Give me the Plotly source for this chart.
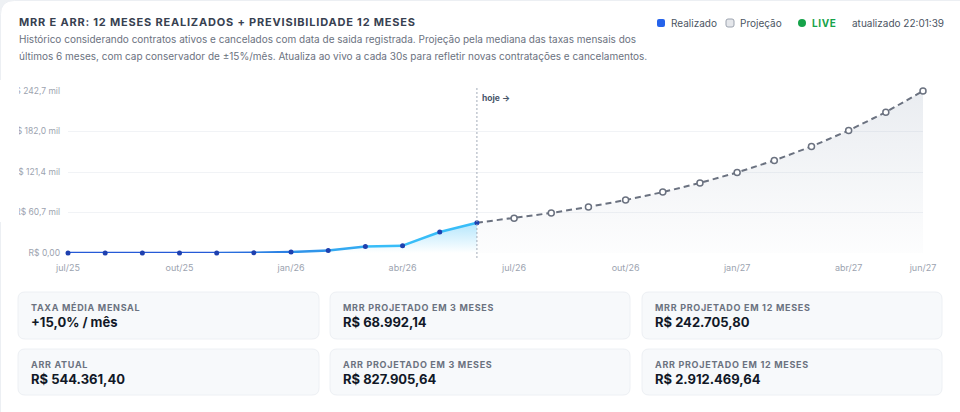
import plotly.graph_objects as go

# ---------------- data ----------------
realized_months = ["jul/25", "ago/25", "set/25", "out/25", "nov/25", "dez/25",
                   "jan/26", "fev/26", "mar/26", "abr/26", "mai/26", "jun/26"]
realized_mrr = [0, 0, 0, 0, 0, 300, 1500, 3600, 9600, 11000, 31500, 45363.45]

projected_months = ["jul/26", "ago/26", "set/26", "out/26", "nov/26", "dez/26",
                    "jan/27", "fev/27", "mar/27", "abr/27", "mai/27", "jun/27"]
projected_mrr = [52167.97, 59993.16, 68992.14, 79340.96, 91242.10, 104928.42,
                 120667.68, 138767.83, 159583.00, 183520.45, 211048.52, 242705.80]

x_tick_labels = ["jul/25", "out/25", "jan/26", "abr/26", "jul/26", "out/26", "jan/27", "abr/27", "jun/27"]
y_tick_values = [0, 60676.45, 121352.90, 182029.35, 242705.80]
y_tick_labels = ["R$ 0,00", "R$ 60,7 mil", "R$ 121,4 mil", "R$ 182,0 mil", "R$ 242,7 mil"]

title_text = "MRR E ARR: 12 MESES REALIZADOS + PREVISIBILIDADE 12 MESES"
subtitle_1 = ("Histórico considerando contratos ativos e cancelados com data de saida registrada. "
              "Projeção pela mediana das taxas mensais dos")
subtitle_2 = ("últimos 6 meses, com cap conservador de ±15%/mês. Atualiza ao vivo a cada 30s "
              "para refletir novas contratações e cancelamentos.")

card_labels = ["TAXA MÉDIA MENSAL", "MRR PROJETADO EM 3 MESES", "MRR PROJETADO EM 12 MESES",
               "ARR ATUAL", "ARR PROJETADO EM 3 MESES", "ARR PROJETADO EM 12 MESES"]
card_values = ["+15,0% / mês", "R$ 68.992,14", "R$ 242.705,80",
               "R$ 544.361,40", "R$ 827.905,64", "R$ 2.912.469,64"]

all_months = realized_months + projected_months

# ---------------- geometry helpers ----------------
W, H = 960, 412
L, R, T, B = 68, 923, 91, 253


def px(x):
    return (x - L) / (R - L)


def py(y):
    return (B - y) / (B - T)


def rrect(x0, y0, x1, y1, r):
    a, b_, c, d = px(x0), px(x1), py(y0), py(y1)
    rx = r / (R - L)
    ry = r / (B - T)
    return (f"M {a+rx},{c} L {b_-rx},{c} Q {b_},{c} {b_},{c-ry} "
            f"L {b_},{d+ry} Q {b_},{d} {b_-rx},{d} L {a+rx},{d} Q {a},{d} {a},{d+ry} "
            f"L {a},{c-ry} Q {a},{c} {a+rx},{c} Z")


FONT = "Inter"

fig = go.Figure()

# projection fill
proj_x = [realized_months[-1]] + projected_months
proj_y = [realized_mrr[-1]] + projected_mrr
fig.add_trace(go.Scatter(
    x=proj_x, y=proj_y, mode="lines", line=dict(width=0), fill="tozeroy",
    fillgradient=dict(type="vertical", start=0, stop=max(projected_mrr),
                      colorscale=[[0, "rgba(148,163,184,0.02)"], [1, "rgba(148,163,184,0.20)"]]),
    hoverinfo="skip", showlegend=False))

# realized fill
fig.add_trace(go.Scatter(
    x=realized_months, y=realized_mrr, mode="lines", line=dict(width=0), fill="tozeroy",
    fillgradient=dict(type="vertical", start=0, stop=max(realized_mrr),
                      colorscale=[[0, "rgba(56,189,248,0.0)"], [1, "rgba(56,189,248,0.38)"]]),
    hoverinfo="skip", showlegend=False))

# projection dashed line
fig.add_trace(go.Scatter(
    x=proj_x, y=proj_y, mode="lines",
    line=dict(color="#6b7280", width=2, dash="6px,4px"),
    cliponaxis=False, hoverinfo="skip", showlegend=False))

# realized line segments with colour gradient (blue -> sky)
c0 = (37, 90, 215)
c1 = (56, 189, 248)
n = len(realized_months)
for i in range(n - 1):
    t = min(1.0, max(0.0, (i - 3) / 5))
    col = tuple(int(c0[k] + (c1[k] - c0[k]) * t) for k in range(3))
    fig.add_trace(go.Scatter(
        x=realized_months[i:i + 2], y=realized_mrr[i:i + 2], mode="lines",
        line=dict(color=f"rgb{col}", width=2.5), cliponaxis=False,
        hoverinfo="skip", showlegend=False))

# projection markers
fig.add_trace(go.Scatter(
    x=projected_months, y=projected_mrr, mode="markers",
    marker=dict(size=6, color="white", line=dict(color="#6b7280", width=1.5)),
    cliponaxis=False, showlegend=False))

# realized markers
fig.add_trace(go.Scatter(
    x=realized_months, y=realized_mrr, mode="markers",
    marker=dict(size=5, color="#1e40af"),
    cliponaxis=False, showlegend=False))

shapes = []
# card background (page)
shapes.append(dict(type="path", xref="paper", yref="paper", layer="below",
                   path=rrect(0.5, 0.5, W + 20, H + 20, 14),
                   fillcolor="white", line=dict(color="#eceff3", width=1)))
# today line
shapes.append(dict(type="line", xref="x", yref="paper", x0=realized_months[-1], x1=realized_months[-1],
                   y0=py(88), y1=py(258), line=dict(color="#a3abb8", width=1, dash="2px,2px"),
                   layer="above"))
# clip tick labels at left edge
shapes.append(dict(type="rect", xref="paper", yref="paper", x0=px(0), x1=px(19), y0=py(80), y1=py(222),
                   fillcolor="white", line=dict(width=0), layer="above"))

# stat cards
card_cols = [(18, 319), (330, 630), (642, 942)]
card_rows = [(292, 339), (349, 395)]
annotations = []
for idx, (lab, val) in enumerate(zip(card_labels, card_values)):
    r_i, c_i = divmod(idx, 3)
    x0, x1 = card_cols[c_i]
    y0, y1 = card_rows[r_i]
    shapes.append(dict(type="path", xref="paper", yref="paper", layer="below",
                       path=rrect(x0, y0, x1, y1, 7),
                       fillcolor="#f7f9fb", line=dict(color="#edf0f4", width=1)))
    annotations.append(dict(xref="paper", yref="paper", x=px(x0 + 11), y=py(y0 + 15),
                            xanchor="left", yanchor="middle", showarrow=False,
                            text=f"<span style='letter-spacing:0.7px'><b>{lab}</b></span>",
                            font=dict(family=FONT, size=9, color="#6b7280")))
    annotations.append(dict(xref="paper", yref="paper", x=px(x0 + 11), y=py(y0 + 30),
                            xanchor="left", yanchor="middle", showarrow=False,
                            text=f"<b>{val}</b>",
                            font=dict(family=FONT, size=13, color="#111827")))

# title + subtitle
annotations.append(dict(xref="paper", yref="paper", x=px(17), y=py(22.5), xanchor="left", yanchor="middle",
                        showarrow=False,
                        text=f"<span style='letter-spacing:0.8px'><b>{title_text}</b></span>",
                        font=dict(family=FONT, size=11, color="#374151")))
annotations.append(dict(xref="paper", yref="paper", x=px(17), y=py(39.5), xanchor="left", yanchor="middle",
                        showarrow=False, text=subtitle_1,
                        font=dict(family=FONT, size=10, color="#6b7280")))
annotations.append(dict(xref="paper", yref="paper", x=px(17), y=py(56), xanchor="left", yanchor="middle",
                        showarrow=False, text=subtitle_2,
                        font=dict(family=FONT, size=10, color="#6b7280")))

# legend row
shapes.append(dict(type="path", xref="paper", yref="paper", layer="above",
                   path=rrect(657, 19, 665, 27, 2), fillcolor="#2563eb", line=dict(width=0)))
shapes.append(dict(type="path", xref="paper", yref="paper", layer="above",
                   path=rrect(726, 19, 734, 27, 2), fillcolor="#e5e7eb", line=dict(color="#9ca3af", width=1)))
shapes.append(dict(type="circle", xref="paper", yref="paper", layer="above",
                   x0=px(798), x1=px(806), y0=py(19), y1=py(27), fillcolor="#16a34a", line=dict(width=0)))
annotations.append(dict(xref="paper", yref="paper", x=px(669), y=py(23), xanchor="left", yanchor="middle",
                        showarrow=False, text="Realizado", font=dict(family=FONT, size=10, color="#4b5563")))
annotations.append(dict(xref="paper", yref="paper", x=px(738), y=py(23), xanchor="left", yanchor="middle",
                        showarrow=False, text="Projeção", font=dict(family=FONT, size=10, color="#4b5563")))
annotations.append(dict(xref="paper", yref="paper", x=px(810), y=py(23), xanchor="left", yanchor="middle",
                        showarrow=False, text="<span style='letter-spacing:0.6px'><b>LIVE</b></span>",
                        font=dict(family=FONT, size=10, color="#16a34a")))
annotations.append(dict(xref="paper", yref="paper", x=px(850), y=py(23), xanchor="left", yanchor="middle",
                        showarrow=False, text="atualizado 22:01:39",
                        font=dict(family=FONT, size=10, color="#4b5563")))

# hoje label
annotations.append(dict(xref="x", yref="paper", x=realized_months[-1], xshift=3, y=py(98),
                        xanchor="left", yanchor="middle", showarrow=False, text="<b>hoje →</b>",
                        font=dict(family=FONT, size=8.5, color="#475569")))

fig.update_layout(
    width=W, height=H,
    margin=dict(l=L, r=W - R, t=T, b=H - B, pad=0, autoexpand=False),
    paper_bgcolor="#eef1f4", plot_bgcolor="rgba(0,0,0,0)",
    font=dict(family=FONT),
    shapes=shapes, annotations=annotations,
    showlegend=False,
    xaxis=dict(type="category", categoryorder="array", categoryarray=all_months,
               range=[0, len(all_months) - 1], tickmode="array", tickvals=x_tick_labels,
               ticktext=x_tick_labels, showgrid=False, zeroline=False, showline=False,
               ticks="", ticklabelstandoff=8, automargin=False,
               tickfont=dict(family=FONT, size=9, color="#9ca3af")),
    yaxis=dict(range=[0, max(projected_mrr)], tickmode="array", tickvals=y_tick_values,
               ticktext=y_tick_labels, showgrid=True, gridcolor="#f1f3f6", gridwidth=1,
               zeroline=False, showline=False, ticks="", ticklabelstandoff=7, automargin=False,
               tickfont=dict(family=FONT, size=8.5, color="#9ca3af")),
)

fig.write_html("out.html")
